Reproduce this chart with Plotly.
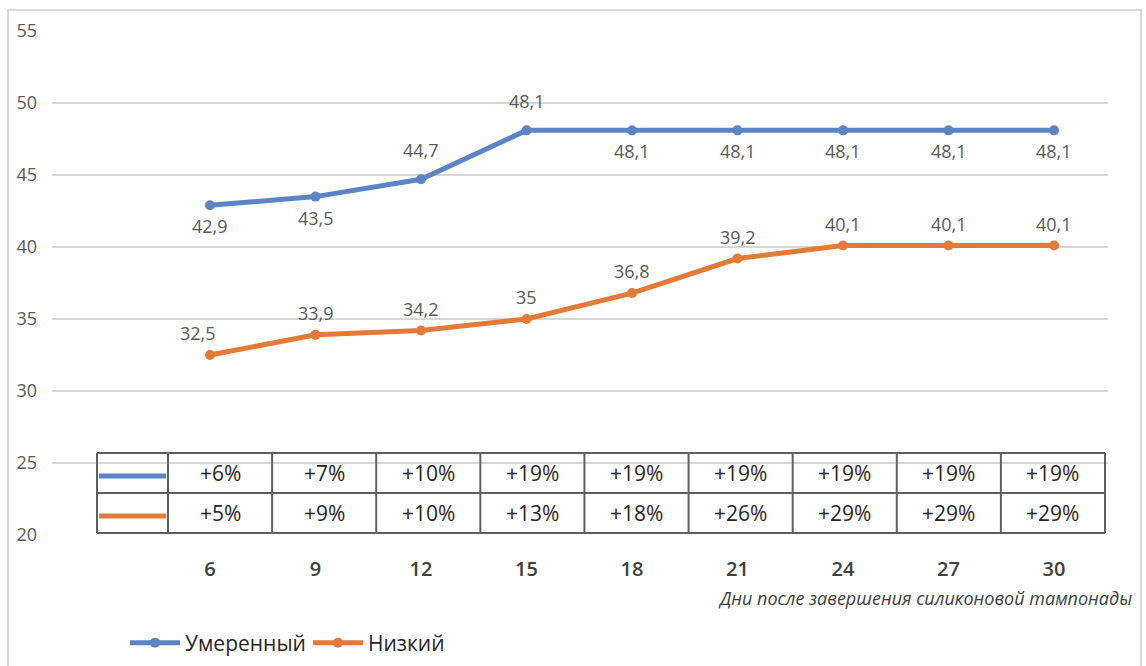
import plotly.graph_objects as go

# --- data ---------------------------------------------------------------
days = [6, 9, 12, 15, 18, 21, 24, 27, 30]
moderate = [42.9, 43.5, 44.7, 48.1, 48.1, 48.1, 48.1, 48.1, 48.1]
low = [32.5, 33.9, 34.2, 35.0, 36.8, 39.2, 40.1, 40.1, 40.1]
moderate_gain = ["+6%", "+7%", "+10%", "+19%", "+19%", "+19%", "+19%", "+19%", "+19%"]
low_gain = ["+5%", "+9%", "+10%", "+13%", "+18%", "+26%", "+29%", "+29%", "+29%"]
series_names = ["Умеренный", "Низкий"]
y_ticks = [20, 25, 30, 35, 40, 45, 50, 55]
x_title = "Дни после завершения силиконовой тампонады"

BLUE = "#5b84c4"
ORANGE = "#e47a38"
FONT = "Open Sans"

# --- layout geometry (pixels of the 1146x666 canvas) --------------------
W, H = 1146, 666
PL, PR, PT, PB = 52, 1108, 31, 535


def px(x):
    return (x - PL) / (PR - PL)


def py(y):
    return (PB - y) / (PB - PT)


def fmt(v):
    s = f"{v:.1f}".replace(".", ",")
    return s[:-2] if s.endswith(",0") else s


fig = go.Figure()

fig.add_trace(go.Scatter(
    x=days, y=moderate, name=series_names[0], mode="lines+markers",
    line=dict(color=BLUE, width=5), marker=dict(color=BLUE, size=10),
))
fig.add_trace(go.Scatter(
    x=days, y=low, name=series_names[1], mode="lines+markers",
    line=dict(color=ORANGE, width=5), marker=dict(color=ORANGE, size=10),
))

shapes = []
annotations = []

# value labels: moderate series above for the rising part, below on the plateau
mod_above = [False, False, True, True, False, False, False, False, False]
label_font = dict(family=FONT, size=18, color="#595959")
for d, v, up in zip(days, moderate, mod_above):
    annotations.append(dict(x=d, y=v, xref="x", yref="y", text=fmt(v), showarrow=False,
                            xanchor="center", yanchor="middle",
                            yshift=29 if up else -21, font=label_font))
for d, v in zip(days, low):
    annotations.append(dict(x=d, y=v, xref="x", yref="y", text=fmt(v), showarrow=False,
                            xanchor="center", yanchor="middle",
                            xshift=-12 if d == days[0] else 0,
                            yshift=22, font=label_font))

# outer chart frame
shapes.append(dict(type="rect", xref="paper", yref="paper",
                   x0=px(8), x1=px(1141), y0=py(700), y1=py(10),
                   line=dict(color="#d9d9d9", width=2), layer="below"))

# data table under the plot (pixel geometry)
tbl_left, tbl_key_right, tbl_right = 97, 168, 1105
tbl_top, tbl_mid, tbl_bot = 453, 493, 533
n_cols = len(days)
col_w = (tbl_right - tbl_key_right) / n_cols
col_edges = [tbl_key_right + i * col_w for i in range(n_cols + 1)]
tbl_line = dict(color="#5f5f5f", width=2)
for yv in (tbl_top, tbl_mid, tbl_bot):
    shapes.append(dict(type="line", xref="paper", yref="paper",
                       x0=px(tbl_left), x1=px(tbl_right), y0=py(yv), y1=py(yv),
                       line=tbl_line))
for xv in [tbl_left] + col_edges:
    shapes.append(dict(type="line", xref="paper", yref="paper",
                       x0=px(xv), x1=px(xv), y0=py(tbl_bot), y1=py(tbl_top),
                       line=tbl_line))
row_centres = ((tbl_top + tbl_mid) / 2, (tbl_mid + tbl_bot) / 2)
# series keys in the first column
for yc, col in zip(row_centres, (BLUE, ORANGE)):
    shapes.append(dict(type="line", xref="paper", yref="paper",
                       x0=px(tbl_left + 2), x1=px(tbl_key_right - 2),
                       y0=py(yc + 3), y1=py(yc + 3),
                       line=dict(color=col, width=5)))
for i, (a, b) in enumerate(zip(moderate_gain, low_gain)):
    xc = (col_edges[i] + col_edges[i + 1]) / 2
    for txt, yc in zip((a, b), row_centres):
        annotations.append(dict(x=px(xc), y=py(yc), xref="paper", yref="paper",
                                xanchor="center", yanchor="middle",
                                text=txt, showarrow=False,
                                font=dict(family=FONT, size=21, color="#262626")))

annotations.append(dict(x=px(1134), y=py(598), xref="paper", yref="paper",
                        xanchor="right", yanchor="middle", showarrow=False,
                        text=f"<i>{x_title}</i>",
                        font=dict(family=FONT, size=18, color="#404040")))

fig.update_layout(
    width=W, height=H,
    margin=dict(l=PL, r=W - PR, t=PT, b=H - PB, autoexpand=False),
    paper_bgcolor="white", plot_bgcolor="white",
    font=dict(family=FONT),
    xaxis=dict(range=[1.507, 31.535], tickvals=days, ticktext=[str(d) for d in days],
               showgrid=False, zeroline=False, showline=False, ticks="",
               ticklabelstandoff=20,
               tickfont=dict(family=FONT, size=20, color="#404040", weight=600)),
    yaxis=dict(range=[20, 55], tickvals=y_ticks, showgrid=True,
               gridcolor="#d6d6d6", gridwidth=2, zeroline=False, showline=False,
               ticks="", ticklabelstandoff=14,
               tickfont=dict(family=FONT, size=18, color="#595959")),
    legend=dict(orientation="h", x=px(125), y=py(643), xanchor="left", yanchor="middle",
                font=dict(family=FONT, size=21, color="#262626"),
                entrywidth=118, itemwidth=50, tracegroupgap=0),
    shapes=shapes,
    annotations=annotations,
    showlegend=True,
)

fig.write_html("out.html")
